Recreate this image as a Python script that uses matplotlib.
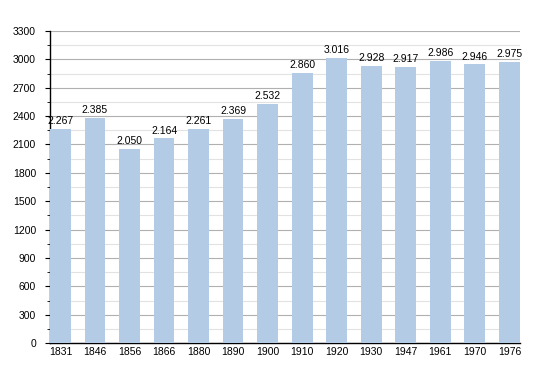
import matplotlib.pyplot as plt
from matplotlib.ticker import MultipleLocator

# --- adatok ---
years = ["1831", "1846", "1856", "1866", "1880", "1890", "1900",
         "1910", "1920", "1930", "1947", "1961", "1970", "1976"]
population = [2267, 2385, 2050, 2164, 2261, 2369, 2532,
              2860, 3016, 2928, 2917, 2986, 2946, 2975]

plt.rcParams.update({
    "font.family": ["Liberation Sans", "DejaVu Sans"],
    "font.size": 7.5,
})

fig = plt.figure(figsize=(5.5, 3.73), dpi=100)
ax = fig.add_axes([0.091, 0.080, 0.854, 0.837])

x = range(len(years))
ax.bar(x, population, width=0.6, color="#b3cbe5", zorder=3)

for xi, v in zip(x, population):
    label = f"{v:,}".replace(",", ".")
    ax.text(xi, v + 30, label, ha="center", va="bottom", fontsize=7.5, zorder=4)

ax.set_xlim(-0.3, len(years) - 0.7)
ax.set_ylim(0, 3300)
ax.set_xticks(list(x))
ax.set_xticklabels(years)
ax.yaxis.set_major_locator(MultipleLocator(300))
ax.yaxis.set_minor_locator(MultipleLocator(150))

ax.grid(True, which="major", axis="y", color="#b0b0b0", linewidth=0.8, zorder=0)
ax.grid(True, which="minor", axis="y", color="#e2e2e2", linewidth=0.8, zorder=0)

for s in ["top", "right"]:
    ax.spines[s].set_visible(False)
ax.spines["left"].set_linewidth(1.0)
ax.spines["bottom"].set_linewidth(1.0)
ax.tick_params(axis="x", length=0, pad=3)
ax.tick_params(axis="y", which="major", length=3.6, pad=6.5)
ax.tick_params(axis="y", which="minor", length=2)

fig.savefig("out.png", dpi=100)
